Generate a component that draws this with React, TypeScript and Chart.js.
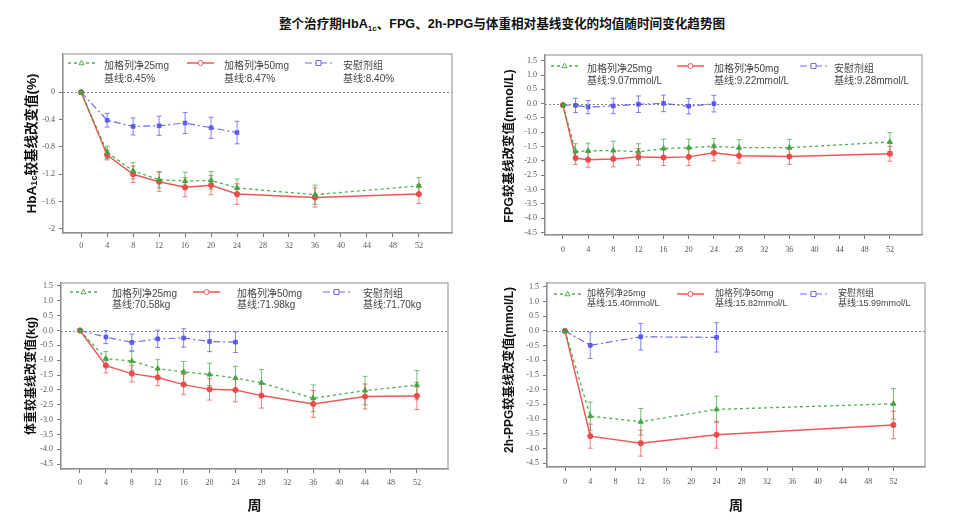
import React, { useEffect, useRef } from 'react';
import { Chart, registerables } from 'chart.js';

Chart.register(...registerables);

// ---------- shared ----------
const SERIES_NAMES = ['加格列净25mg', '加格列净50mg', '安慰剂组'];
const X_TICKS = [0, 4, 8, 12, 16, 20, 24, 28, 32, 36, 40, 44, 48, 52];
const Y_TICKS_HBA = [0, -0.4, -0.8, -1.2, -1.6, -2];
const Y_TICKS_STD = [1.5, 1.0, 0.5, 0.0, -0.5, -1.0, -1.5, -2.0, -2.5, -3.0, -3.5, -4.0, -4.5];
const X_TITLE = '周';
const MAIN_TITLE_A = '整个治疗期HbA';
const MAIN_TITLE_SUB = '1c';
const MAIN_TITLE_B = '、FPG、2h-PPG与体重相对基线变化的均值随时间变化趋势图';

// ---------- HbA1c ----------
const hbaWeeksActive = [0, 4, 8, 12, 16, 20, 24, 36, 52];
const hbaWeeksPlacebo = [0, 4, 8, 12, 16, 20, 24];
const hba25 = [0, -0.88, -1.15, -1.28, -1.3, -1.29, -1.4, -1.5, -1.37];
const hba25Err = [0, 0.09, 0.12, 0.12, 0.13, 0.13, 0.13, 0.14, 0.12];
const hba50 = [0, -0.92, -1.2, -1.31, -1.39, -1.36, -1.49, -1.54, -1.49];
const hba50Err = [0, 0.07, 0.12, 0.14, 0.14, 0.14, 0.15, 0.14, 0.14];
const hbaPbo = [0, -0.41, -0.5, -0.49, -0.45, -0.52, -0.59];
const hbaPboErr = [0, 0.1, 0.125, 0.14, 0.155, 0.155, 0.165];
const hbaBaselines = ['基线:8.45%', '基线:8.47%', '基线:8.40%'];

// ---------- FPG ----------
const fpgWeeksActive = [0, 2, 4, 8, 12, 16, 20, 24, 28, 36, 52];
const fpgWeeksPlacebo = [0, 2, 4, 8, 12, 16, 20, 24];
const fpg25 = [-0.05, -1.67, -1.65, -1.64, -1.68, -1.57, -1.54, -1.49, -1.54, -1.54, -1.34];
const fpg25Err = [0, 0.27, 0.27, 0.33, 0.28, 0.33, 0.3, 0.27, 0.28, 0.29, 0.33];
const fpg50 = [-0.05, -1.9, -1.96, -1.93, -1.86, -1.88, -1.86, -1.72, -1.82, -1.85, -1.75];
const fpg50Err = [0, 0.23, 0.26, 0.28, 0.29, 0.28, 0.3, 0.28, 0.26, 0.27, 0.26];
const fpgPbo = [-0.05, -0.06, -0.12, -0.08, -0.02, 0.01, -0.09, 0.0];
const fpgPboErr = [0, 0.25, 0.23, 0.27, 0.29, 0.29, 0.27, 0.29];
const fpgBaselines = ['基线:9.07mmol/L', '基线:9.22mmol/L', '基线:9.28mmol/L'];

// ---------- Weight ----------
const wtWeeksActive = [0, 4, 8, 12, 16, 20, 24, 28, 36, 44, 52];
const wtWeeksPlacebo = [0, 4, 8, 12, 16, 20, 24];
const wt25 = [0, -0.95, -1.03, -1.28, -1.39, -1.48, -1.6, -1.76, -2.28, -2.02, -1.84];
const wt25Err = [0, 0.24, 0.32, 0.3, 0.35, 0.38, 0.4, 0.45, 0.45, 0.48, 0.49];
const wt50 = [0, -1.18, -1.45, -1.58, -1.82, -1.98, -2.0, -2.19, -2.47, -2.22, -2.2];
const wt50Err = [0, 0.25, 0.28, 0.28, 0.34, 0.36, 0.4, 0.42, 0.45, 0.42, 0.46];
const wtPbo = [0, -0.22, -0.4, -0.28, -0.25, -0.37, -0.39];
const wtPboErr = [0, 0.22, 0.28, 0.29, 0.31, 0.34, 0.35];
const wtBaselines = ['基线:70.58kg', '基线:71.98kg', '基线:71.70kg'];

// ---------- 2h-PPG ----------
const ppgWeeksActive = [0, 4, 12, 24, 52];
const ppgWeeksPlacebo = [0, 4, 12, 24];
const ppg25 = [0, -2.9, -3.09, -2.67, -2.48];
const ppg25Err = [0, 0.48, 0.45, 0.45, 0.52];
const ppg50 = [0, -3.58, -3.82, -3.53, -3.2];
const ppg50Err = [0, 0.41, 0.44, 0.46, 0.47];
const ppgPbo = [0, -0.49, -0.2, -0.22];
const ppgPboErr = [0, 0.45, 0.45, 0.5];
const ppgBaselines = ['基线:15.40mmol/L', '基线:15.82mmol/L', '基线:15.99mmol/L'];

// ---------- styles ----------
const STYLES = [
  { color: 'rgba(60,165,60,0.9)', err: 'rgba(60,165,60,0.7)', dash: [3, 3], width: 1.3, point: 'triangle', radius: 3 },
  { color: 'rgba(235,70,70,0.9)', err: 'rgba(235,70,70,0.7)', dash: [] as number[], width: 1.5, point: 'circle', radius: 2.6 },
  { color: 'rgba(80,80,235,0.85)', err: 'rgba(80,80,235,0.7)', dash: [7, 3, 2, 3], width: 1.2, point: 'rect', radius: 2.6 },
];

const SANS = '"Liberation Sans", "Noto Sans CJK SC", sans-serif';
const SERIF = '"Liberation Serif", "DejaVu Serif", serif';

type Series = { x: number[]; y: number[]; e: number[] };
type Panel = {
  left: number; top: number; width: number; height: number;
  padding: { left: number; right: number; top: number; bottom: number };
  yWidth: number; xHeight: number; xPad: number;
  xMin: number; xMax: number; yMin: number; yMax: number;
  yTicks: number[]; yFmt: (v: number) => string;
  xTitle: boolean;
  titleParts: { t: string; sub?: boolean }[]; titleX: number; titleDy: number; titleSize: number;
  legLineY: number; legRow1: number; legRow2: number; legFont: number;
  legLineX: number[]; legTextX: number[];
  baselines: string[];
  series: Series[];
};

const fmtHba = (v: number) => String(Math.round(v * 10) / 10);
const fmtStd = (v: number) => v.toFixed(1);

const PANELS: Panel[] = [
  {
    left: 0, top: 35, width: 480, height: 235,
    padding: { left: 0, right: 28, top: 19, bottom: 7 },
    yWidth: 63, xHeight: 30, xPad: 4,
    xMin: -2.8, xMax: 57.1, yMin: -2.06, yMax: 0.56,
    yTicks: Y_TICKS_HBA, yFmt: fmtHba, xTitle: false,
    titleParts: [{ t: 'HbA' }, { t: '1c', sub: true }, { t: '较基线改变值(%)' }], titleX: 32, titleDy: 0, titleSize: 13.5,
    legLineY: 9, legRow1: 12, legRow2: 25, legFont: 10,
    legLineX: [5, 124, 242], legTextX: [41, 161, 280],
    baselines: hbaBaselines,
    series: [
      { x: hbaWeeksActive, y: hba25, e: hba25Err },
      { x: hbaWeeksActive, y: hba50, e: hba50Err },
      { x: hbaWeeksPlacebo, y: hbaPbo, e: hbaPboErr },
    ],
  },
  {
    left: 480, top: 35, width: 480, height: 235,
    padding: { left: 0, right: 38, top: 20, bottom: 5 },
    yWidth: 65, xHeight: 30, xPad: 6,
    xMin: -2.86, xMax: 57.1, yMin: -4.59, yMax: 1.7,
    yTicks: Y_TICKS_STD, yFmt: fmtStd, xTitle: false,
    titleParts: [{ t: 'FPG较基线改变值(mmol/L)' }], titleX: 30, titleDy: 1, titleSize: 12.5,
    legLineY: 11, legRow1: 14, legRow2: 26, legFont: 10,
    legLineX: [6, 132, 255], legTextX: [42, 169, 289],
    baselines: fpgBaselines,
    series: [
      { x: fpgWeeksActive, y: fpg25, e: fpg25Err },
      { x: fpgWeeksActive, y: fpg50, e: fpg50Err },
      { x: fpgWeeksPlacebo, y: fpgPbo, e: fpgPboErr },
    ],
  },
  {
    left: 0, top: 270, width: 480, height: 260,
    padding: { left: 0, right: 32, top: 13, bottom: 15 },
    yWidth: 61, xHeight: 46, xPad: 5,
    xMin: -2.93, xMax: 56.8, yMin: -4.66, yMax: 1.6,
    yTicks: Y_TICKS_STD, yFmt: fmtStd, xTitle: true,
    titleParts: [{ t: '体重较基线改变值(kg)' }], titleX: 32, titleDy: 0, titleSize: 12,
    legLineY: 9, legRow1: 11, legRow2: 22, legFont: 10,
    legLineX: [9, 132, 262], legTextX: [51, 176, 302],
    baselines: wtBaselines,
    series: [
      { x: wtWeeksActive, y: wt25, e: wt25Err },
      { x: wtWeeksActive, y: wt50, e: wt50Err },
      { x: wtWeeksPlacebo, y: wtPbo, e: wtPboErr },
    ],
  },
  {
    left: 480, top: 270, width: 480, height: 260,
    padding: { left: 0, right: 35, top: 13, bottom: 15 },
    yWidth: 67, xHeight: 48, xPad: 6,
    xMin: -2.85, xMax: 57.0, yMin: -4.63, yMax: 1.63,
    yTicks: Y_TICKS_STD, yFmt: fmtStd, xTitle: true,
    titleParts: [{ t: '2h-PPG较基线改变值(mmol/L)' }], titleX: 30, titleDy: -5, titleSize: 12,
    legLineY: 11, legRow1: 11, legRow2: 21, legFont: 9,
    legLineX: [7, 130, 253], legTextX: [40, 168, 291],
    baselines: ppgBaselines,
    series: [
      { x: ppgWeeksActive, y: ppg25, e: ppg25Err },
      { x: ppgWeeksActive, y: ppg50, e: ppg50Err },
      { x: ppgWeeksPlacebo, y: ppgPbo, e: ppgPboErr },
    ],
  },
];

function drawMarker(ctx: CanvasRenderingContext2D, style: string, x: number, y: number, r: number) {
  ctx.beginPath();
  if (style === 'triangle') {
    ctx.moveTo(x, y - r * 1.1);
    ctx.lineTo(x + r, y + r * 0.7);
    ctx.lineTo(x - r, y + r * 0.7);
    ctx.closePath();
  } else if (style === 'rect') {
    ctx.rect(x - r, y - r, r * 2, r * 2);
  } else {
    ctx.arc(x, y, r, 0, Math.PI * 2);
  }
}

function makeChart(canvas: HTMLCanvasElement, p: Panel) {
  const datasets = p.series.map((s, i) => {
    const st = STYLES[i];
    return {
      label: SERIES_NAMES[i],
      data: s.x.map((x, j) => ({ x, y: s.y[j] })),
      errors: s.e,
      borderColor: st.color,
      backgroundColor: st.color,
      borderWidth: st.width,
      borderDash: st.dash,
      pointStyle: st.point,
      pointRadius: st.radius,
      pointBackgroundColor: st.color,
      pointBorderColor: st.color,
      pointBorderWidth: 1,
      tension: 0,
      fill: false,
      showLine: true,
    } as any;
  });

  const deco = {
    id: 'deco',
    beforeDatasetsDraw(chart: any) {
      const { ctx, chartArea: a, scales } = chart;
      const ys = scales.y;
      ctx.save();
      // frame
      ctx.strokeStyle = '#a0a0a0';
      ctx.lineWidth = 1.2;
      ctx.strokeRect(a.left, a.top, a.right - a.left, a.bottom - a.top);
      // zero line
      const y0 = Math.round(ys.getPixelForValue(0)) + 0.5;
      ctx.strokeStyle = '#888';
      ctx.lineWidth = 1;
      ctx.setLineDash([2, 2]);
      ctx.beginPath();
      ctx.moveTo(a.left, y0);
      ctx.lineTo(a.right, y0);
      ctx.stroke();
      ctx.setLineDash([]);
      // error bars
      chart.data.datasets.forEach((ds: any, i: number) => {
        const meta = chart.getDatasetMeta(i);
        ctx.strokeStyle = STYLES[i].err;
        ctx.lineWidth = 1;
        meta.data.forEach((pt: any, j: number) => {
          const e = ds.errors[j];
          if (!e) return;
          const v = ds.data[j].y;
          const yt = ys.getPixelForValue(v + e);
          const yb = ys.getPixelForValue(v - e);
          const x = pt.x;
          ctx.beginPath();
          ctx.moveTo(x, yt);
          ctx.lineTo(x, yb);
          ctx.moveTo(x - 2.5, yt);
          ctx.lineTo(x + 2.5, yt);
          ctx.moveTo(x - 2.5, yb);
          ctx.lineTo(x + 2.5, yb);
          ctx.stroke();
        });
      });
      ctx.restore();
    },
    afterDraw(chart: any) {
      const { ctx, chartArea: a } = chart;
      ctx.save();
      // legend
      for (let i = 0; i < 3; i++) {
        const st = STYLES[i];
        const lx = a.left + p.legLineX[i];
        const ly = a.top + p.legLineY;
        ctx.strokeStyle = st.color;
        ctx.lineWidth = st.width;
        ctx.setLineDash(st.dash);
        ctx.beginPath();
        ctx.moveTo(lx, ly);
        ctx.lineTo(lx + 27, ly);
        ctx.stroke();
        ctx.setLineDash([]);
        ctx.fillStyle = '#fff';
        ctx.lineWidth = 1;
        drawMarker(ctx, st.point, lx + 13.5, ly, 2.5);
        ctx.fill();
        ctx.stroke();
        ctx.fillStyle = '#444';
        ctx.font = `${p.legFont}px ${SANS}`;
        ctx.textAlign = 'left';
        ctx.textBaseline = 'middle';
        const tx = a.left + p.legTextX[i];
        ctx.fillText(SERIES_NAMES[i], tx, a.top + p.legRow1);
        ctx.fillText(p.baselines[i], tx, a.top + p.legRow2);
      }
      // y title with optional subscript
      const big = `bold ${p.titleSize}px ${SANS}`;
      const small = `bold ${Math.round(p.titleSize * 0.65)}px ${SANS}`;
      let total = 0;
      const widths = p.titleParts.map((part) => {
        ctx.font = part.sub ? small : big;
        const w = ctx.measureText(part.t).width;
        total += w;
        return w;
      });
      ctx.translate(p.titleX, (a.top + a.bottom) / 2 + p.titleDy);
      ctx.rotate(-Math.PI / 2);
      ctx.fillStyle = '#111';
      ctx.textBaseline = 'middle';
      ctx.textAlign = 'left';
      let cx = -total / 2;
      p.titleParts.forEach((part, k) => {
        ctx.font = part.sub ? small : big;
        ctx.fillText(part.t, cx, part.sub ? 3 : 0);
        cx += widths[k];
      });
      ctx.restore();
    },
  };

  return new Chart(canvas, {
    type: 'line',
    data: { datasets },
    plugins: [deco],
    options: {
      animation: false,
      responsive: false,
      maintainAspectRatio: false,
      layout: { padding: p.padding },
      plugins: { legend: { display: false }, tooltip: { enabled: false }, title: { display: false } },
      scales: {
        x: {
          type: 'linear',
          min: p.xMin,
          max: p.xMax,
          afterBuildTicks: (s: any) => { s.ticks = X_TICKS.map((v) => ({ value: v })); },
          afterFit: (s: any) => { s.height = p.xHeight; },
          ticks: {
            autoSkip: false, maxRotation: 0, padding: p.xPad,
            font: { family: SERIF, size: 8 }, color: '#555',
            callback: (v: any) => String(v),
          },
          grid: { display: true, drawOnChartArea: false, drawTicks: true, tickLength: 4, color: '#777' },
          border: { display: true, color: '#777', width: 1.2 },
          title: {
            display: p.xTitle, text: X_TITLE, padding: { top: 0, bottom: 0 },
            font: { family: SANS, size: 14, weight: 'bold' }, color: '#111',
          },
        },
        y: {
          type: 'linear',
          min: p.yMin,
          max: p.yMax,
          afterBuildTicks: (s: any) => { s.ticks = p.yTicks.map((v) => ({ value: v })); },
          afterFit: (s: any) => { s.width = p.yWidth; },
          ticks: {
            autoSkip: false, padding: 4,
            font: { family: SERIF, size: 8 }, color: '#555',
            callback: (v: any) => p.yFmt(Number(v)),
          },
          grid: { display: true, drawOnChartArea: false, drawTicks: true, tickLength: 4, color: '#777' },
          border: { display: true, color: '#777', width: 1.2 },
        },
      },
    } as any,
  });
}

function PanelChart({ p }: { p: Panel }) {
  const ref = useRef<HTMLCanvasElement | null>(null);
  useEffect(() => {
    if (!ref.current) return;
    const c = makeChart(ref.current, p);
    return () => c.destroy();
  }, [p]);
  return (
    <canvas
      ref={ref}
      width={p.width}
      height={p.height}
      style={{ position: 'absolute', left: p.left, top: p.top, width: p.width, height: p.height }}
    />
  );
}

export default function App() {
  return (
    <div style={{ position: 'absolute', left: 0, top: 0, width: 960, height: 530, background: '#fff', overflow: 'hidden' }}>
      <div
        style={{
          position: 'absolute', left: 502, top: 15, transform: 'translateX(-50%)', whiteSpace: 'nowrap',
          fontFamily: SANS, fontWeight: 'bold', fontSize: 12.6, lineHeight: '18px', color: '#111',
        }}
      >
        {MAIN_TITLE_A}
        <span style={{ fontSize: 8, position: 'relative', top: 3 }}>{MAIN_TITLE_SUB}</span>
        {MAIN_TITLE_B}
      </div>
      {PANELS.map((p, i) => (
        <PanelChart key={i} p={p} />
      ))}
    </div>
  );
}
